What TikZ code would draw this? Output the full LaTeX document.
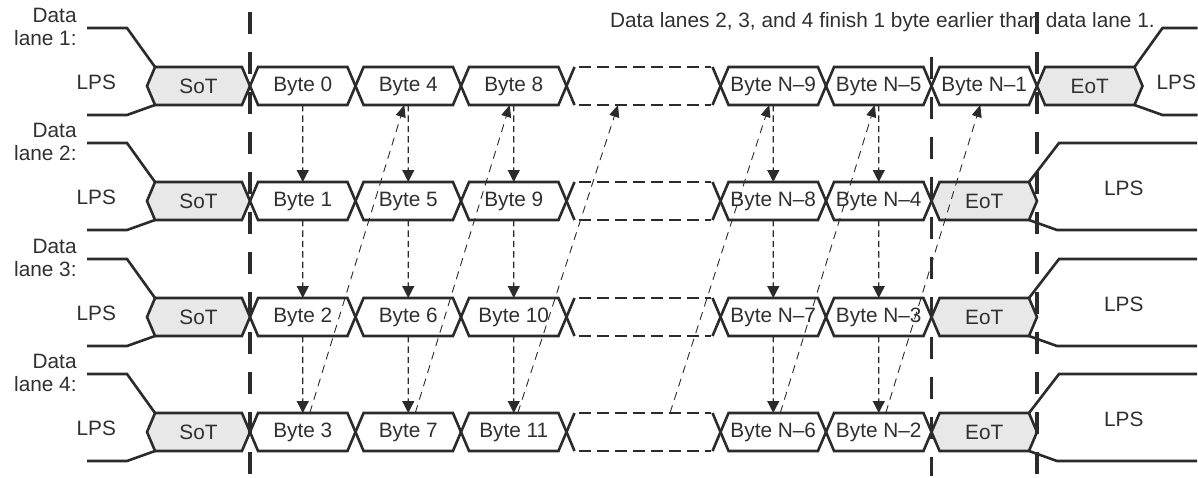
\documentclass[tikz,border=0pt]{standalone}
\usepackage{fontspec}
\setmainfont{Liberation Sans}
\usetikzlibrary{positioning, arrows.meta, shapes.symbols}

\definecolor{linegray}{HTML}{2B2B2B}
\definecolor{hsgray}{HTML}{E8E8E8}
\definecolor{txtgray}{HTML}{303030}

\begin{document}
\begin{tikzpicture}[
   x=0.5pt, y=-0.5pt,
   font=\fontsize{10.4}{11.5}\selectfont, text=txtgray,
   cell/.style={signal, signal to=east and west, signal pointer angle=134,
         draw=linegray, line width=1.3pt, outer sep=0pt, inner sep=0pt,
         minimum height=19pt, minimum width=52.75pt},
   hsbox/.style={cell, fill=hsgray},
   gapbox/.style={cell, draw=none, minimum width=77pt},
   lpline/.style={draw=linegray, line width=1.3pt},
   gapline/.style={lpline, dash pattern=on 6pt off 3pt},
   marker/.style={draw=linegray, line width=1.6pt, dash pattern=on 11pt off 9pt},
   vflow/.style={draw=linegray, line width=0.6pt, dash pattern=on 3.2pt off 2pt,
         -{Triangle[length=6pt, width=6pt]}},
   dflow/.style={draw=linegray, line width=0.45pt, dash pattern=on 4pt off 3pt,
         -{Triangle[length=6pt, width=5pt]}},
   lanelabel/.style={align=right, inner sep=0pt},
   node distance=0pt,
  ]
  \useasboundingbox (0,0) rectangle (1198,477);

  % lane 1
  \node[hsbox, minimum width=51.5pt] (sot1) at (198.5,86) {SoT};
  \node[cell, right=of sot1] (b0) {Byte 0};
  \node[cell, right=of b0] (b4) {Byte 4};
  \node[cell, right=of b4] (b8) {Byte 8};
  \node[gapbox, right=of b8] (gap1) {};
  \node[cell, right=of gap1] (n9) {Byte N--9};
  \node[cell, right=of n9] (n5) {Byte N--5};
  \node[cell, right=of n5] (n1) {Byte N--1};
  \node[hsbox, right=of n1] (eot1) {EoT};

  % lane 2
  \node[hsbox, minimum width=51.5pt] (sot2) at (198.5,201) {SoT};
  \node[cell, right=of sot2] (b1) {Byte 1};
  \node[cell, right=of b1] (b5) {Byte 5};
  \node[cell, right=of b5] (b9) {Byte 9};
  \node[gapbox, right=of b9] (gap2) {};
  \node[cell, right=of gap2] (n8) {Byte N--8};
  \node[cell, right=of n8] (n4) {Byte N--4};
  \node[hsbox, right=of n4] (eot2) {EoT};

  % lane 3
  \node[hsbox, minimum width=51.5pt] (sot3) at (198.5,317) {SoT};
  \node[cell, right=of sot3] (b2) {Byte 2};
  \node[cell, right=of b2] (b6) {Byte 6};
  \node[cell, right=of b6] (b10) {Byte 10};
  \node[gapbox, right=of b10] (gap3) {};
  \node[cell, right=of gap3] (n7) {Byte N--7};
  \node[cell, right=of n7] (n3) {Byte N--3};
  \node[hsbox, right=of n3] (eot3) {EoT};

  % lane 4
  \node[hsbox, minimum width=51.5pt] (sot4) at (198.5,432) {SoT};
  \node[cell, right=of sot4] (b3) {Byte 3};
  \node[cell, right=of b3] (b7) {Byte 7};
  \node[cell, right=of b7] (b11) {Byte 11};
  \node[gapbox, right=of b11] (gap4) {};
  \node[cell, right=of gap4] (n6) {Byte N--6};
  \node[cell, right=of n6] (n2) {Byte N--2};
  \node[hsbox, right=of n2] (eot4) {EoT};

  % gaps: solid ends, dashed sides
  \foreach \g in {gap1, gap2, gap3, gap4} {
    \draw[lpline] ([xshift=4pt]\g.west |- \g.north) -- (\g.west) -- ([xshift=4pt]\g.west |- \g.south);
    \draw[lpline] ([xshift=-4pt]\g.east |- \g.north) -- (\g.east) -- ([xshift=-4pt]\g.east |- \g.south);
    \draw[gapline] ([xshift=6pt]\g.west |- \g.north) -- ([xshift=-5pt]\g.east |- \g.north);
    \draw[gapline] ([xshift=6pt]\g.west |- \g.south) -- ([xshift=-5pt]\g.east |- \g.south);
  }

  % LP levels before SoT
  \foreach \i in {1,2,3,4} {
    \draw[lpline] ([xshift=4pt]sot\i.west |- sot\i.north) -- ++(-28,-39) -- ++(-40,0) coordinate (lp\i);
    \draw[lpline] ([xshift=4pt]sot\i.west |- sot\i.south) -- ++(-28,10) -- ++(-40,0);
    \node[left=12pt of sot\i, yshift=2pt] {LPS};
    \node[lanelabel, left=5pt of lp\i, yshift=0.5pt] {Data\\lane \i:};
  }

  % LP levels after EoT
  \draw[lpline] ([xshift=-4pt]eot1.east |- eot1.north) -- ++(28,-39) -- ++(35,0);
  \draw[lpline] ([xshift=-4pt]eot1.east |- eot1.south) -- ++(28,10) -- ++(35,0);
  \node[right=3.5pt of eot1, yshift=2pt] {LPS};
  \foreach \i in {2,3,4} {
    \draw[lpline] ([xshift=-4pt]eot\i.east |- eot\i.north) -- ++(30,-39) -- ++(138,0);
    \draw[lpline] ([xshift=-4pt]eot\i.east |- eot\i.south) -- ++(28,10) -- ++(140,0);
    \node[right=30pt of eot\i, yshift=6.5pt] {LPS};
  }

  % markers
  \draw[marker] (sot1.east |- 0,12) -- (sot1.east |- 0,476);
  \draw[marker] (eot2.west |- 0,57) -- (eot2.west |- 0,476);
  \draw[marker] (eot1.west |- 0,12) -- (eot1.west |- 0,476);

  \node[anchor=base west] (note) at (603,27)
    {Data lanes 2, 3, and 4 finish 1 byte earlier than data lane 1.};

  % byte order, lane to lane
  \draw[vflow] (b0) -- (b1);
  \draw[vflow] (b1) -- (b2);
  \draw[vflow] (b2) -- (b3);
  \draw[vflow] (b4) -- (b5);
  \draw[vflow] (b5) -- (b6);
  \draw[vflow] (b6) -- (b7);
  \draw[vflow] (b8) -- (b9);
  \draw[vflow] (b9) -- (b10);
  \draw[vflow] (b10) -- (b11);
  \draw[vflow] (n9) -- (n8);
  \draw[vflow] (n8) -- (n7);
  \draw[vflow] (n7) -- (n6);
  \draw[vflow] (n5) -- (n4);
  \draw[vflow] (n4) -- (n3);
  \draw[vflow] (n3) -- (n2);

  % lane 4 back to lane 1
  \draw[dflow] ([xshift=3.5pt]b3.north) -- ([xshift=-2pt]b4.south);
  \draw[dflow] ([xshift=3.5pt]b7.north) -- ([xshift=-2pt]b8.south);
  \draw[dflow] ([xshift=2pt]b11.north) -- ([xshift=-12.75pt]gap1.south);
  \draw[dflow] ([xshift=13.25pt]gap4.north) -- ([xshift=-2pt]n9.south);
  \draw[dflow] ([xshift=3.5pt]n6.north) -- ([xshift=-2pt]n5.south);
  \draw[dflow] ([xshift=3.5pt]n2.north) -- ([xshift=-2pt]n1.south);
\end{tikzpicture}
\end{document}
